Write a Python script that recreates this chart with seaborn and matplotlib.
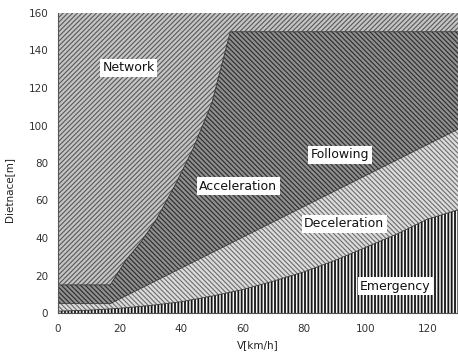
import matplotlib
matplotlib.use("Agg")
import matplotlib.pyplot as plt
import seaborn as sns

# region boundaries (speed km/h -> distance m)
speed_upper = [0, 17, 22, 27, 32, 38, 44, 50, 56, 130]
dist_upper = [15, 15, 28, 38, 50, 68, 88, 112, 150, 150]

speed_decel = [0, 17, 130]
dist_decel = [5, 5, 98]

speed_emerg = [0, 10, 20, 30, 40, 50, 60, 70, 80, 90, 100, 110, 120, 130]
dist_emerg = [1, 1.5, 2.5, 4, 6, 9, 12.5, 17, 22, 28, 35, 42, 50, 55]

x_max = 130
y_max = 160

region_labels = ["Network", "Acceleration", "Following", "Deceleration", "Emergency"]
label_speed = [23, 58.5, 91.6, 93, 109.7]
label_dist = [130.7, 67.7, 84.3, 47.5, 14.3]

sns.set_theme(style="white")
plt.rcParams["font.family"] = ["DejaVu Sans"]

fig = plt.figure(figsize=(4.58, 3.57), dpi=100)
ax = fig.add_axes([58 / 458, 1 - 313 / 357, 1 - 58 / 458, 300 / 357])


def fill_region(xs, ys, face, hatch, hatch_color, hatch_lw):
    plt.rcParams["hatch.linewidth"] = hatch_lw
    ax.fill(xs, ys, facecolor=face, edgecolor=hatch_color, hatch=hatch, linewidth=0)


# network: above the upper boundary
fill_region(speed_upper + [x_max, 0], dist_upper + [y_max, y_max],
            "#c4c4c4", "///////", "#585858", 0.8)
# acceleration / following: between decel line and upper boundary
fill_region(speed_upper + speed_decel[::-1], dist_upper + dist_decel[::-1],
            "#919191", "\\\\\\\\\\\\\\", "#333333", 0.9)
# deceleration: between emergency and decel line
fill_region(speed_decel + speed_emerg[::-1], dist_decel + dist_emerg[::-1],
            "#dcdcdc", "\\\\\\\\\\\\\\", "#6c6c6c", 0.8)
# emergency: below emergency curve
fill_region(speed_emerg + [x_max, 0], dist_emerg + [0, 0],
            "#f4f4f4", "|||||", "#151515", 1.3)

for xs, ys in [(speed_upper, dist_upper), (speed_decel, dist_decel),
               (speed_emerg, dist_emerg)]:
    sns.lineplot(x=xs, y=ys, ax=ax, color="#333333", linewidth=0.6,
                 sort=False, estimator=None)

for name, lx, ly in zip(region_labels, label_speed, label_dist):
    ax.text(lx, ly, name, ha="center", va="center", fontsize=9,
            color="#111111",
            bbox=dict(boxstyle="square,pad=0.2", facecolor="white",
                      edgecolor="none"))

ax.set_xlim(0, x_max)
ax.set_ylim(0, y_max)
ax.set_xticks(range(0, 121, 20))
ax.set_yticks(range(0, 161, 20))
ax.tick_params(axis="both", labelsize=7.5, labelcolor="#333333",
               direction="in", length=3, width=0.8, color="#333333")
ax.tick_params(axis="x", pad=8)
ax.tick_params(axis="y", pad=7)
for side in ["top", "right"]:
    ax.spines[side].set_visible(False)
for side in ["left", "bottom"]:
    ax.spines[side].set_color("#555555")
    ax.spines[side].set_linewidth(0.8)

ax.set_xlabel("V[km/h]", fontsize=7.5, color="#222222", labelpad=4)
ax.set_ylabel("Dietnace[m]", fontsize=7.5, color="#222222")
ax.yaxis.set_label_coords(-0.11, 0.41)

fig.savefig("out.png", dpi=100)
